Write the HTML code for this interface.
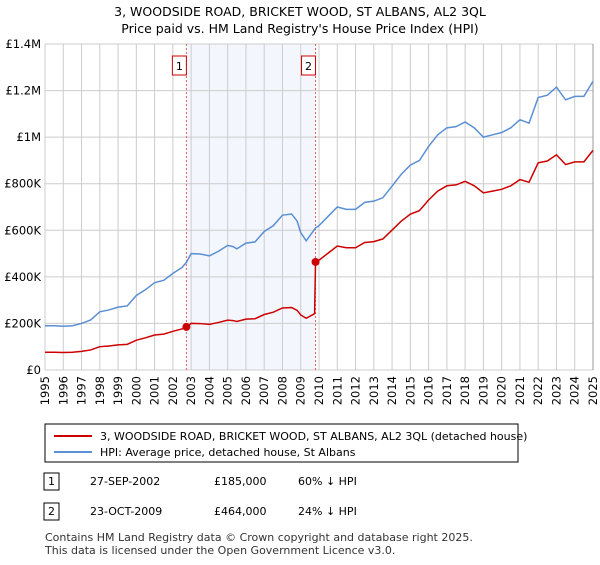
<!DOCTYPE html>
<html><head><meta charset="utf-8"><style>
body{margin:0;background:#fff;font-family:"Liberation Sans","DejaVu Sans",sans-serif;}
svg text{font-family:"DejaVu Sans","Liberation Sans",sans-serif;}
</style></head><body>
<svg width="600" height="560" id="c">
<text x="300" y="16" text-anchor="middle" font-size="12.5">3, WOODSIDE ROAD, BRICKET WOOD, ST ALBANS, AL2 3QL</text>
<text x="300" y="33" text-anchor="middle" font-size="12.5">Price paid vs. HM Land Registry's House Price Index (HPI)</text>
<g id="plot"></g>
<rect x="45" y="424" width="473" height="38" fill="#fff" stroke="#000" stroke-width="1"/>
<line x1="54" y1="436" x2="92" y2="436" stroke="#cc0000" stroke-width="2"/>
<text x="100" y="440" font-size="11">3, WOODSIDE ROAD, BRICKET WOOD, ST ALBANS, AL2 3QL (detached house)</text>
<line x1="54" y1="452" x2="92" y2="452" stroke="#5b8fd4" stroke-width="2"/>
<text x="100" y="456" font-size="11">HPI: Average price, detached house, St Albans</text>
<rect x="44" y="473" width="15" height="17" fill="#fff" stroke="#000"/>
<text x="51.5" y="485" font-size="11" text-anchor="middle">1</text>
<text x="90" y="485" font-size="11">27-SEP-2002</text>
<text x="214" y="485" font-size="11">£185,000</text>
<text x="298" y="485" font-size="11">60% ↓ HPI</text>
<rect x="44" y="503" width="15" height="17" fill="#fff" stroke="#000"/>
<text x="51.5" y="515" font-size="11" text-anchor="middle">2</text>
<text x="90" y="515" font-size="11">23-OCT-2009</text>
<text x="214" y="515" font-size="11">£464,000</text>
<text x="298" y="515" font-size="11">24% ↓ HPI</text>
<text x="45" y="541" font-size="11" fill="#333">Contains HM Land Registry data © Crown copyright and database right 2025.</text>
<text x="45" y="554" font-size="11" fill="#333">This data is licensed under the Open Government Licence v3.0.</text>
</svg>
<script>
const hpiYears=[1995,1995.5,1996,1996.5,1997,1997.5,1998,1998.5,1999,1999.5,2000,2000.5,2001,2001.5,2002,2002.5,2002.74,2003,2003.5,2004,2004.5,2005,2005.3,2005.5,2006,2006.5,2007,2007.5,2008,2008.5,2008.8,2009,2009.3,2009.81,2010,2010.5,2011,2011.5,2012,2012.5,2013,2013.5,2014,2014.5,2015,2015.5,2016,2016.5,2017,2017.5,2018,2018.5,2019,2019.5,2020,2020.5,2021,2021.5,2022,2022.5,2023,2023.5,2024,2024.5,2025];
const hpiValues=[190000,190000,188000,190000,200000,215000,250000,258000,270000,275000,320000,345000,375000,385000,415000,440000,462000,500000,498000,490000,510000,535000,530000,520000,545000,550000,595000,620000,665000,670000,640000,590000,555000,610000,620000,660000,700000,690000,690000,720000,725000,740000,790000,840000,880000,900000,960000,1010000,1040000,1045000,1065000,1040000,1000000,1010000,1020000,1040000,1075000,1060000,1170000,1180000,1215000,1160000,1175000,1175000,1240000];
const saleYears=[2002.74,2009.81];
const salePrices=[185000,464000];
const saleLabels=["1","2"];
const yTicks=[0,200000,400000,600000,800000,1000000,1200000,1400000];
const yTickLabels=["£0","£200K","£400K","£600K","£800K","£1M","£1.2M","£1.4M"];
const xTicks=[1995,1996,1997,1998,1999,2000,2001,2002,2003,2004,2005,2006,2007,2008,2009,2010,2011,2012,2013,2014,2015,2016,2017,2018,2019,2020,2021,2022,2023,2024,2025];

const X0=45,X1=593,Y0=370,Y1=44;
const xs=v=>X0+(v-1995)/30*(X1-X0);
const ys=v=>Y0-v/1400000*(Y0-Y1);
const NS="http://www.w3.org/2000/svg";
const g=document.getElementById('plot');
function mk(t,a){const e=document.createElementNS(NS,t);for(const k in a)e.setAttribute(k,a[k]);g.appendChild(e);return e;}
function hpiAt(t){for(let i=0;i<hpiYears.length-1;i++){if(t>=hpiYears[i]&&t<=hpiYears[i+1]){const f=(t-hpiYears[i])/(hpiYears[i+1]-hpiYears[i]);return hpiValues[i]+f*(hpiValues[i+1]-hpiValues[i]);}}return hpiValues[hpiValues.length-1];}

let sh=mk('rect',{x:xs(saleYears[0]),y:Y1,width:xs(saleYears[1])-xs(saleYears[0]),height:Y0-Y1,fill:'#eef3fc',opacity:0.7});


xTicks.forEach(t=>{
 let l=mk('line',{x1:xs(t),x2:xs(t),y1:Y1,y2:Y0,stroke:'#cccccc','stroke-width':1});
 
 
 let tx=mk('text',{x:0,y:0,'font-size':11.5,'text-anchor':'end',transform:`translate(${xs(t)+4},${Y0+6}) rotate(-90)`});
 tx.textContent=t;
 
 
});
yTicks.forEach((t,i)=>{
 let l=mk('line',{x1:X0,x2:X1,y1:ys(t),y2:ys(t),stroke:'#cccccc','stroke-width':1});
 
 
 let tx=mk('text',{x:X0-4,y:ys(t)+4,'font-size':11.5,'text-anchor':'end'});
 tx.textContent=yTickLabels[i];
 
 
});
let ax=mk('line',{x1:X1,x2:X1,y1:Y1,y2:Y0,stroke:'#999','stroke-width':1});


saleYears.forEach((s,i)=>{
 let l=mk('line',{x1:xs(s),x2:xs(s),y1:Y1,y2:Y0,stroke:'#e06060','stroke-width':1,'stroke-dasharray':'2,2'});
 
 
 let b=mk('rect',{x:xs(s)-14,y:Y1+12,width:14,height:19,fill:'#fff',stroke:'#cc0000'});
 
 
 let t=mk('text',{x:xs(s)-7,y:Y1+26,'font-size':11,'text-anchor':'middle'});
 t.textContent=saleLabels[i];
 
 
});
let hp=hpiYears.map((t,i)=>xs(t)+','+ys(hpiValues[i])).join(' ');
let hl=mk('polyline',{points:hp,fill:'none',stroke:'#5b8fd4','stroke-width':1.5});


// price-paid series: indexed to HPI from each sale
const r1=salePrices[0]/hpiAt(saleYears[0]), r2=salePrices[1]/hpiAt(saleYears[1]);
let pts=[];
hpiYears.forEach((t,i)=>{ if(t<saleYears[1]) pts.push([t,hpiValues[i]*r1]); });
pts.push([saleYears[1]-0.05,hpiAt(saleYears[1]-0.05)*r1]);
pts.push([saleYears[1],salePrices[1]]);
hpiYears.forEach((t,i)=>{ if(t>saleYears[1]) pts.push([t,hpiValues[i]*r2]); });
let rl=mk('polyline',{points:pts.map(p=>xs(p[0])+','+ys(p[1])).join(' '),fill:'none',stroke:'#cc0000','stroke-width':1.5});


saleYears.forEach((s,i)=>{
 let c=mk('circle',{cx:xs(s),cy:ys(salePrices[i]),r:4,fill:'#cc0000'});
 
 
});
</script>
</body></html>
